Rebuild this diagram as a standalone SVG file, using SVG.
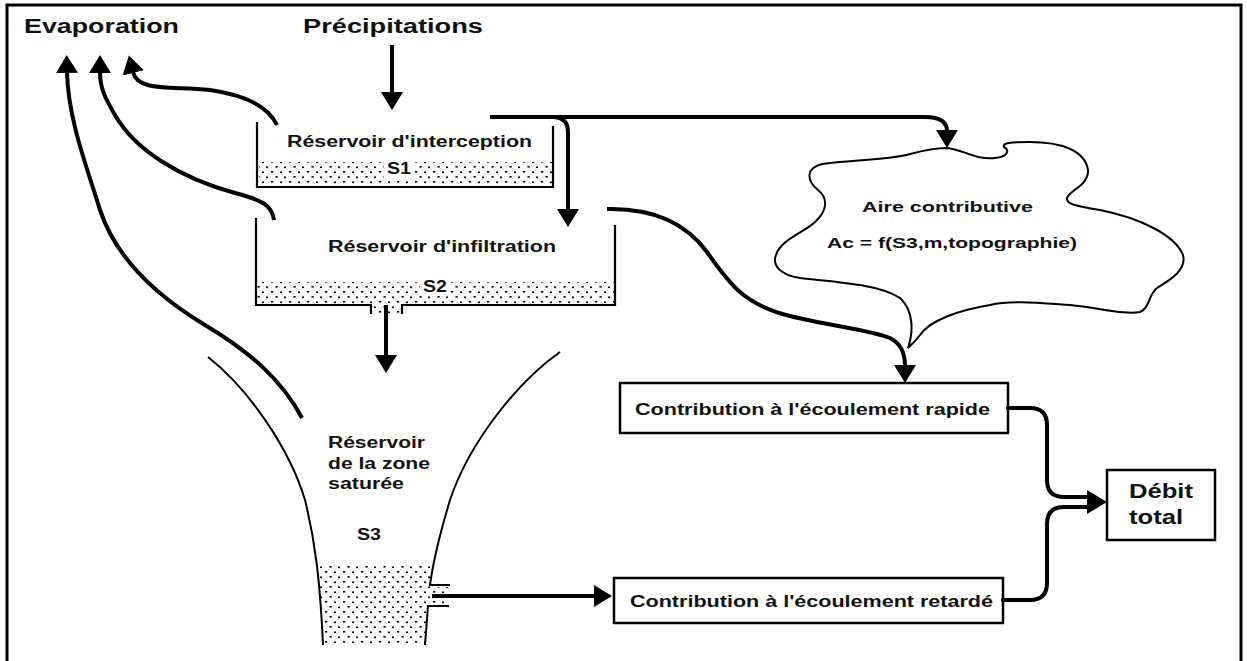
<svg xmlns="http://www.w3.org/2000/svg" width="1247" height="661" viewBox="0 0 1247 661">
<style>
text{font-family:"Liberation Sans",Arial,sans-serif;font-weight:bold;fill:#111;}
.t20{font-size:20px;}
.t16{font-size:16px;}
.t15{font-size:15px;}
.wall{fill:none;stroke:#000;stroke-width:2.2;}
.thin{fill:none;stroke:#000;stroke-width:2;}
.flow{fill:none;stroke:#000;stroke-width:4;stroke-linecap:round;}
.flowa{fill:none;stroke:#000;stroke-width:4;marker-end:url(#ah);}
.box{fill:#fff;stroke:#000;stroke-width:2.5;}
.sand{fill:url(#sand);stroke:none;}
.head{fill:#000;}
</style>
<defs>
<pattern id="sand" width="18" height="10" patternUnits="userSpaceOnUse">
<rect x="1" y="1" width="2.2" height="1.6" fill="#000"/>
<rect x="10" y="1.5" width="2" height="1.6" fill="#000"/>
<rect x="5.5" y="6" width="2.2" height="1.6" fill="#000"/>
<rect x="14" y="6.5" width="2" height="1.6" fill="#000"/>
</pattern>
<marker id="ah" markerUnits="userSpaceOnUse" markerWidth="24" markerHeight="24" refX="1" refY="11" orient="auto">
<path d="M0,0 L18,11 L0,22 Z" fill="#000"/>
</marker>
</defs>
<rect width="1247" height="661" fill="#fff"/>
<rect x="7" y="5" width="1234" height="670" fill="none" stroke="#000" stroke-width="3"/>

<g id="evaporation"><text class="t20" x="24" y="33" textLength="155" lengthAdjust="spacingAndGlyphs">Evaporation</text></g>
<g id="precipitations"><text class="t20" x="303" y="33" textLength="180" lengthAdjust="spacingAndGlyphs">Précipitations</text></g>

<g id="reservoir-interception">
<rect class="sand" x="259" y="162" width="293" height="24"/>
<rect x="384" y="161" width="30" height="17" fill="#fff"/>
<path class="wall" d="M257,122 L257,187 L553,187 L553,126"/>
<text class="t16" x="287" y="147" textLength="245" lengthAdjust="spacingAndGlyphs">Réservoir d'interception</text>
<text class="t16" x="387" y="174" textLength="24" lengthAdjust="spacingAndGlyphs">S1</text>
</g>

<g id="reservoir-infiltration">
<rect class="sand" x="257" y="282" width="357" height="22"/>
<rect class="sand" x="371" y="304" width="31" height="10"/>
<rect x="420" y="279" width="30" height="17" fill="#fff"/>
<path class="wall" d="M256,218 L256,305 L371,305 L371,314 M402,314 L402,305 L615,305 L615,225"/>
<text class="t16" x="328" y="252" textLength="228" lengthAdjust="spacingAndGlyphs">Réservoir d'infiltration</text>
<text class="t16" x="423" y="292" textLength="24" lengthAdjust="spacingAndGlyphs">S2</text>
</g>

<g id="reservoir-saturee">
<path class="sand" d="M319,565 L431,565 L430,587 L450,587 L450,605 L427,605 L425,645 L323,645 Z"/>
<path class="thin" d="M208,357 C250,390 290,450 305,500 C315,540 320,580 323,645"/>
<path class="thin" d="M560,352 C520,380 470,440 450,500 C438,540 432,570 430,585 L450,585 M449,606 L428,606 L425,645"/>
<text class="t16" x="328" y="448" textLength="97" lengthAdjust="spacingAndGlyphs">Réservoir</text>
<text class="t16" x="328" y="469" textLength="102" lengthAdjust="spacingAndGlyphs">de la zone</text>
<text class="t16" x="328" y="489" textLength="76" lengthAdjust="spacingAndGlyphs">saturée</text>
<text class="t16" x="357" y="540" textLength="24" lengthAdjust="spacingAndGlyphs">S3</text>
</g>

<g id="aire-contributive">
<path fill="#fff" stroke="#000" stroke-width="2" d="M908,348 C914,330 913,310 900,298 C880,285 840,282 800,278 C780,275 772,265 776,255 C780,240 805,232 815,222 C828,210 828,198 818,190 C806,180 806,168 822,164 C850,160 890,160 910,154 C925,150 935,148 947,148 C965,150 975,160 995,158 C1008,157 1010,150 1004,147 C1002,143 1010,142 1030,142 C1060,142 1085,150 1088,170 C1089,185 1070,190 1067,198 C1066,204 1075,206 1100,210 C1140,218 1175,235 1183,255 C1187,270 1170,280 1157,288 C1148,295 1150,308 1140,312 C1125,315 1100,308 1070,305 C1040,303 1010,300 990,305 C960,310 930,320 920,335 C915,342 910,346 908,348 Z"/>
<text class="t15" x="862" y="212" textLength="171" lengthAdjust="spacingAndGlyphs">Aire contributive</text>
<text class="t15" x="827" y="248" textLength="250" lengthAdjust="spacingAndGlyphs">Ac = f(S3,m,topographie)</text>
</g>

<g id="ecoulement-rapide">
<rect class="box" x="620" y="383" width="388" height="50"/>
<text class="t16" x="635" y="415" textLength="355" lengthAdjust="spacingAndGlyphs">Contribution à l'écoulement rapide</text>
</g>
<g id="ecoulement-retarde">
<rect class="box" x="614" y="578" width="389" height="45"/>
<text class="t16" x="630" y="607" textLength="363" lengthAdjust="spacingAndGlyphs">Contribution à l'écoulement retardé</text>
</g>
<g id="debit-total">
<rect class="box" x="1107" y="470" width="108" height="70"/>
<text class="t20" x="1129" y="498" textLength="64" lengthAdjust="spacingAndGlyphs">Débit</text>
<text class="t20" x="1129" y="524" textLength="54" lengthAdjust="spacingAndGlyphs">total</text>
</g>

<g id="connectors">
<path class="flowa" d="M302,418 C282,380 250,352 205,325 C150,292 115,255 100,210 C88,170 68,120 67,72"/>
<path class="flowa" d="M274,220 C272,205 262,200 235,193 C180,178 135,150 115,115 C105,98 100,88 100,72"/>
<path class="flowa" d="M277,125 C268,106 245,95 210,90 C170,86 138,92 133,72"/>
<path class="flowa" d="M392,45 L392,93"/>
<path class="flowa" d="M490,117 L925,117 Q947,117 947,131"/>
<path class="flowa" d="M552,117 Q568,117 568,132 L568,210"/>
<path class="flowa" d="M386,305 L386,356"/>
<path class="flowa" d="M607,209 C650,208 685,222 707,252 C730,285 745,305 790,316 C830,326 870,330 890,338 C900,343 905,352 905,366"/>
<path class="flowa" d="M432,596 L595,596"/>
<path class="flow" d="M1008,408 L1030,408 Q1047,408 1047,425 L1047,480 Q1047,497 1064,497 L1088,497"/>
<path class="flow" d="M1003,600 L1030,600 Q1047,600 1047,583 L1047,524 Q1047,507 1064,507 L1088,507"/>
<path class="head" d="M1087,490 L1107,502 L1087,514 Z"/>
</g>
</svg>
